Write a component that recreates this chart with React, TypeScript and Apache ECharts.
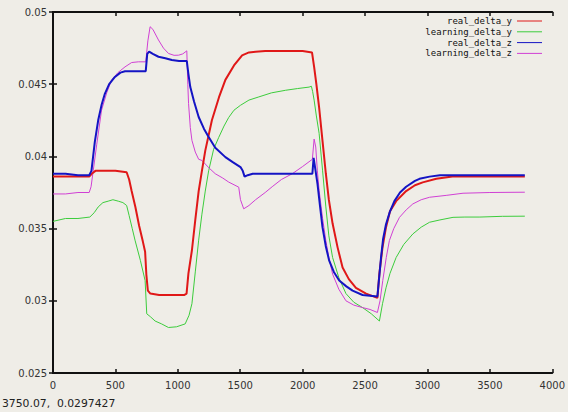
import React, { useEffect, useRef } from "react";
import * as echarts from "echarts";

const seriesNames = ["real_delta_y", "learning_delta_y", "real_delta_z", "learning_delta_z"];
const seriesColors = ["#e01818", "#3ccc3c", "#1414c4", "#d040d4"];

const xTicks = [0, 500, 1000, 1500, 2000, 2500, 3000, 3500, 4000];
const yTicks = [0.025, 0.03, 0.035, 0.04, 0.045, 0.05];

const realYx = [0, 100, 200, 290, 310, 340, 400, 500, 590, 610, 630, 660, 690, 720, 738, 748, 760, 780, 850, 950, 1050, 1070, 1085, 1113, 1140, 1167, 1193, 1220, 1273, 1330, 1381, 1450, 1515, 1570, 1623, 1700, 1800, 1900, 2000, 2075, 2092, 2110, 2132, 2160, 2186, 2210, 2240, 2280, 2320, 2370, 2427, 2508, 2599, 2615, 2640, 2668, 2700, 2749, 2829, 2900, 2962, 3071, 3200, 3400, 3600, 3780];
const realYv = [0.0386, 0.0386, 0.0386, 0.0386, 0.0388, 0.039, 0.039, 0.039, 0.0389, 0.0384, 0.0376, 0.0365, 0.0352, 0.0341, 0.0334, 0.0318, 0.0307, 0.0305, 0.0304, 0.0304, 0.0304, 0.0305, 0.0319, 0.0335, 0.0356, 0.0376, 0.039, 0.0404, 0.0425, 0.0441, 0.0453, 0.0463, 0.047, 0.0472, 0.04725, 0.0473, 0.0473, 0.0473, 0.0473, 0.0472, 0.0462, 0.045, 0.0434, 0.041, 0.0388, 0.037, 0.03535, 0.0337, 0.0323, 0.0315, 0.0309, 0.0305, 0.0302, 0.0319, 0.0337, 0.0351, 0.0362, 0.0369, 0.0376, 0.038, 0.0382, 0.03845, 0.0386, 0.0386, 0.0386, 0.0386];

const learnYx = [0, 100, 200, 295, 330, 362, 400, 442, 480, 523, 560, 590, 610, 635, 657, 700, 738, 751, 780, 818, 870, 925, 990, 1059, 1090, 1113, 1140, 1167, 1193, 1220, 1247, 1287, 1327, 1370, 1408, 1450, 1502, 1570, 1649, 1750, 1864, 1960, 2052, 2070, 2080, 2092, 2110, 2132, 2160, 2186, 2210, 2240, 2290, 2347, 2410, 2480, 2550, 2615, 2640, 2668, 2700, 2749, 2810, 2883, 2950, 3017, 3100, 3205, 3300, 3420, 3600, 3780];
const learnYv = [0.0355, 0.0357, 0.0357, 0.0358, 0.0361, 0.0365, 0.0368, 0.0369, 0.037, 0.0369, 0.0368, 0.0366, 0.0359, 0.035, 0.0342, 0.0328, 0.0314, 0.0291, 0.0289, 0.0286, 0.0284, 0.02815, 0.0282, 0.0284, 0.029, 0.0298, 0.032, 0.0342, 0.036, 0.0376, 0.039, 0.0405, 0.0413, 0.0421, 0.0427, 0.0432, 0.04354, 0.0439, 0.04412, 0.0444, 0.04458, 0.0447, 0.0448, 0.04486, 0.0445, 0.0439, 0.0428, 0.0416, 0.039, 0.0365, 0.0345, 0.033, 0.0316, 0.0305, 0.0299, 0.02953, 0.0291, 0.0286, 0.0298, 0.0309, 0.0319, 0.033, 0.0339, 0.03463, 0.0351, 0.03544, 0.0356, 0.03578, 0.0358, 0.0358, 0.03585, 0.03586];

const realZx = [0, 100, 200, 290, 308, 335, 362, 390, 416, 450, 496, 540, 577, 650, 743, 755, 770, 800, 845, 900, 952, 1010, 1072, 1085, 1100, 1130, 1167, 1210, 1247, 1300, 1381, 1440, 1502, 1520, 1535, 1560, 1600, 1800, 2000, 2078, 2088, 2095, 2119, 2140, 2159, 2185, 2212, 2250, 2293, 2350, 2400, 2480, 2599, 2615, 2628, 2645, 2668, 2700, 2735, 2780, 2829, 2900, 2936, 3017, 3100, 3300, 3500, 3780];
const realZv = [0.0388, 0.0388, 0.0387, 0.0387, 0.039, 0.041, 0.0425, 0.0436, 0.04435, 0.045, 0.0455, 0.0458, 0.0459, 0.0459, 0.0459, 0.0471, 0.04725, 0.0471, 0.0469, 0.0468, 0.04667, 0.0466, 0.0466, 0.0457, 0.0448, 0.0438, 0.04273, 0.0419, 0.04134, 0.0406, 0.03995, 0.0396, 0.03926, 0.039, 0.0386, 0.0387, 0.0388, 0.0388, 0.0388, 0.0388, 0.0399, 0.0395, 0.0381, 0.0365, 0.0351, 0.0338, 0.0328, 0.032, 0.0314, 0.031, 0.0307, 0.0304, 0.0303, 0.0318, 0.033, 0.0343, 0.0353, 0.0362, 0.0369, 0.0375, 0.0379, 0.0383, 0.03845, 0.0386, 0.0387, 0.0387, 0.0387, 0.0387];

const learnZx = [0, 100, 200, 290, 305, 322, 350, 389, 430, 469, 520, 577, 630, 684, 743, 760, 778, 800, 845, 885, 925, 970, 1006, 1040, 1072, 1080, 1086, 1100, 1113, 1140, 1167, 1193, 1250, 1300, 1360, 1408, 1488, 1502, 1528, 1570, 1623, 1700, 1756, 1830, 1917, 2000, 2078, 2092, 2105, 2118, 2132, 2160, 2186, 2210, 2240, 2290, 2347, 2410, 2480, 2540, 2599, 2620, 2642, 2670, 2695, 2730, 2776, 2830, 2883, 2950, 3017, 3150, 3285, 3500, 3780];
const learnZv = [0.0374, 0.0374, 0.0375, 0.0375, 0.0379, 0.039, 0.0408, 0.0432, 0.0444, 0.04528, 0.0458, 0.0462, 0.0465, 0.04655, 0.04655, 0.048, 0.04898, 0.0488, 0.04806, 0.0475, 0.04713, 0.047, 0.04701, 0.0471, 0.04731, 0.045, 0.04366, 0.042, 0.04111, 0.0403, 0.0398, 0.03972, 0.0392, 0.0388, 0.0385, 0.03822, 0.03787, 0.037, 0.03637, 0.0366, 0.037, 0.0375, 0.0379, 0.0384, 0.0388, 0.0393, 0.0398, 0.0412, 0.04065, 0.039, 0.03764, 0.0357, 0.03417, 0.033, 0.03185, 0.0308, 0.03, 0.0297, 0.02953, 0.0294, 0.02919, 0.03, 0.0314, 0.033, 0.03417, 0.035, 0.03578, 0.0363, 0.03671, 0.037, 0.03717, 0.0373, 0.03745, 0.0375, 0.03752];

const statusText = "3750.07,  0.0297427";

const seriesX = [realYx, learnYx, realZx, learnZx];
const seriesV = [realYv, learnYv, realZv, learnZv];
const seriesWidths = [2, 1, 2, 1];

export default function App() {
  const ref = useRef<HTMLDivElement>(null);
  useEffect(() => {
    if (!ref.current) return;
    const chart = echarts.init(ref.current, null, { renderer: "svg" });
    const fmtY = (v: number) => String(parseFloat(v.toFixed(4)));
    const axisBase = {
      type: "value" as const,
      axisLine: { show: true, lineStyle: { color: "#111", width: 2 } },
      axisTick: { show: true, inside: true, length: 4, lineStyle: { color: "#111", width: 1.5 } },
      splitLine: { show: false },
    };
    const legendGraphics: any[] = [];
    seriesNames.forEach((n, i) => {
      const y = 21 + i * 10.8;
      legendGraphics.push({
        type: "text",
        x: 512,
        y,
        style: {
          text: n,
          align: "right",
          verticalAlign: "middle",
          font: "9px 'DejaVu Sans Mono'",
          fill: "#111",
        },
      });
      legendGraphics.push({
        type: "line",
        shape: { x1: 517, y1: y, x2: 542, y2: y },
        style: { stroke: seriesColors[i], lineWidth: 1 },
      });
    });
    legendGraphics.push({
      type: "text",
      x: 2,
      y: 403,
      style: {
        text: statusText,
        align: "left",
        verticalAlign: "middle",
        font: "10.8px 'DejaVu Sans'",
        fill: "#222",
      },
    });
    chart.setOption({
      animation: false,
      backgroundColor: "#efede7",
      grid: { left: 53, right: 15, top: 12, bottom: 39 },
      xAxis: [
        {
          ...axisBase,
          min: 0,
          max: 4000,
          interval: 500,
          position: "bottom",
          axisLabel: { color: "#333", fontSize: 10, fontFamily: "DejaVu Sans", margin: 7, formatter: (v: number) => String(v) },
        },
        {
          ...axisBase,
          min: 0,
          max: 4000,
          interval: 500,
          position: "top",
          axisLabel: { show: false },
        },
      ],
      yAxis: [
        {
          ...axisBase,
          min: 0.025,
          max: 0.05,
          interval: 0.005,
          position: "left",
          axisLabel: { color: "#333", fontSize: 10, fontFamily: "DejaVu Sans", margin: 6, formatter: fmtY },
        },
        {
          ...axisBase,
          min: 0.025,
          max: 0.05,
          interval: 0.005,
          position: "right",
          axisLabel: { show: false },
        },
      ],
      series: seriesNames.map((n, i) => ({
        name: n,
        type: "line",
        xAxisIndex: 0,
        yAxisIndex: 0,
        showSymbol: false,
        symbol: "none",
        smooth: false,
        data: seriesX[i].map((x, j) => [x, seriesV[i][j]]),
        lineStyle: { color: seriesColors[i], width: seriesWidths[i] },
        itemStyle: { color: seriesColors[i] },
        z: i === 2 ? 4 : i === 0 ? 3 : 2,
      })),
      graphic: legendGraphics,
    });
    return () => chart.dispose();
  }, []);
  return (
    <div
      ref={ref}
      style={{ position: "absolute", left: 0, top: 0, width: 568, height: 412 }}
    />
  );
}
